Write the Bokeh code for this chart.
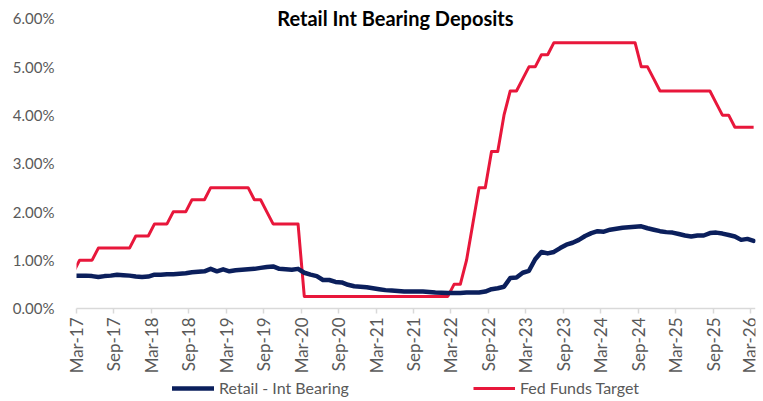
import math
import pandas as pd
from bokeh.plotting import figure
from bokeh.models import (Range1d, FixedTicker, PrintfTickFormatter,
                          Legend, LegendItem, Label, BoxAnnotation)
from bokeh.embed import file_html
from bokeh.resources import INLINE

# ---------------- data ----------------
first_month = "2017-02"
last_month = "2026-03"
axis_start = "2017-03"

tick_labels = ["Mar-17", "Sep-17", "Mar-18", "Sep-18", "Mar-19", "Sep-19", "Mar-20",
               "Sep-20", "Mar-21", "Sep-21", "Mar-22", "Sep-22", "Mar-23", "Sep-23",
               "Mar-24", "Sep-24", "Mar-25", "Sep-25", "Mar-26"]

y_ticks = [0, 1, 2, 3, 4, 5, 6]
y_tick_labels_fmt = "%.2f%%"

retail_int_bearing = [
    0.68, 0.68, 0.68, 0.67, 0.65, 0.67, 0.68, 0.70, 0.69, 0.68, 0.66, 0.65, 0.66,
    0.70, 0.70, 0.71, 0.71, 0.72, 0.73, 0.75, 0.76, 0.77, 0.82, 0.77, 0.81,
    0.77, 0.79, 0.80, 0.81, 0.82, 0.84, 0.86, 0.87, 0.82, 0.81, 0.80, 0.82,
    0.74, 0.70, 0.67, 0.59, 0.59, 0.55, 0.54, 0.49, 0.46, 0.45, 0.44, 0.42,
    0.40, 0.38, 0.37, 0.36, 0.35, 0.35, 0.35, 0.35, 0.34, 0.33, 0.325, 0.32,
    0.32, 0.32, 0.33, 0.33, 0.33, 0.35, 0.40, 0.42, 0.45, 0.63, 0.64, 0.74,
    0.78, 1.02, 1.17, 1.14, 1.17, 1.25, 1.32, 1.36, 1.42, 1.50, 1.56, 1.60,
    1.59, 1.63, 1.65, 1.67, 1.68, 1.69, 1.70, 1.66, 1.63, 1.60, 1.58, 1.57,
    1.54, 1.51, 1.49, 1.51, 1.51, 1.56, 1.57, 1.55, 1.52, 1.49, 1.42, 1.44,
    1.40,
]

fed_funds_target = (
    [0.75] + [1.00] * 3 + [1.25] * 6 + [1.50] * 3 + [1.75] * 3 + [2.00] * 3 +
    [2.25] * 3 + [2.50] * 7 + [2.25] * 2 + [2.00] + [1.75] * 5 + [0.25] * 24 +
    [0.50] * 2 + [1.00] + [1.75] + [2.50] * 2 + [3.25] * 2 + [4.00] + [4.50] * 2 +
    [4.75] + [5.00] * 2 + [5.25] * 2 + [5.50] * 14 + [5.00] * 2 + [4.75] +
    [4.50] * 9 + [4.25] + [4.00] * 2 + [3.75] * 4
)

# ---------------- positions (months since axis start, points mid-month) ----------------
start = pd.Period(axis_start, freq="M")
periods = pd.period_range(first_month, last_month, freq="M")
x = [(p - start).n + 0.5 for p in periods]
tick_pos = [(pd.Period(pd.to_datetime(t, format="%b-%y"), freq="M") - start).n for t in tick_labels]

FONT = "Lato"
GRAY = "#595959"
X_END = 108.8
X_START = -1.923

# frame spans the whole figure height so that title and legend are not clipped;
# the x axis is pinned at y = 0
p = figure(width=760, height=398, x_range=Range1d(X_START, X_END), y_range=Range1d(-1.862, 6.372),
           output_backend="svg", toolbar_location=None,
           min_border_left=64, min_border_right=5, min_border_top=0, min_border_bottom=0)
p.outline_line_color = None
p.grid.grid_line_color = None
p.background_fill_color = "white"
p.border_fill_color = "white"

# y axis
p.yaxis.ticker = FixedTicker(ticks=y_ticks)
p.yaxis.formatter = PrintfTickFormatter(format=y_tick_labels_fmt)
p.yaxis.axis_line_color = None
p.yaxis.major_tick_line_color = None
p.yaxis.minor_tick_line_color = None
p.yaxis.major_label_standoff = 4
p.yaxis.major_label_text_font = FONT
p.yaxis.major_label_text_font_size = "15px"
p.yaxis.major_label_text_color = GRAY

# x axis
p.xaxis.fixed_location = 0
p.xaxis.bounds = (0, X_END)
p.xaxis.ticker = FixedTicker(ticks=tick_pos)
p.xaxis.major_label_overrides = {tp: lbl for tp, lbl in zip(tick_pos, tick_labels)}
p.xaxis.major_label_orientation = math.pi / 2
p.xaxis.axis_line_color = "#d9d9d9"
p.xaxis.axis_line_width = 1.5
p.xaxis.major_tick_line_color = "#d9d9d9"
p.xaxis.major_tick_line_width = 1.5
p.xaxis.major_tick_in = 0
p.xaxis.major_tick_out = 5
p.xaxis.minor_tick_line_color = None
p.xaxis.major_label_standoff = 4
p.xaxis.major_label_text_font = FONT
p.xaxis.major_label_text_font_size = "17px"
p.xaxis.major_label_text_color = GRAY

r_fed = p.line(x, fed_funds_target, line_color="#E8173B", line_width=3, line_join="round")
r_ret = p.line(x, retail_int_bearing, line_color="#0B1F5C", line_width=4.5, line_join="round",
               line_cap="round")

# mask the series left of the plot-area edge (chart clips lines there)
mask = BoxAnnotation(right=0, fill_color="white", fill_alpha=1, line_color=None, level="glyph")
p.add_layout(mask)

legend = Legend(items=[LegendItem(label="Retail - Int Bearing", renderers=[r_ret]),
                       LegendItem(label="Fed Funds Target", renderers=[r_fed])],
                orientation="horizontal", location=(108, 1), spacing=124,
                glyph_width=42, glyph_height=16, label_height=16, label_standoff=5,
                padding=0, margin=0,
                border_line_color=None, background_fill_alpha=0,
                label_text_font=FONT, label_text_font_size="16px", label_text_color=GRAY)
p.add_layout(legend)

title = Label(x=51.1, y=6.0, text="Retail Int Bearing Deposits", text_font=FONT,
              text_font_style="bold", text_font_size="20px", text_color="black",
              text_align="center", text_baseline="middle")
p.add_layout(title)

open("out.html", "w").write(file_html(p, INLINE))
